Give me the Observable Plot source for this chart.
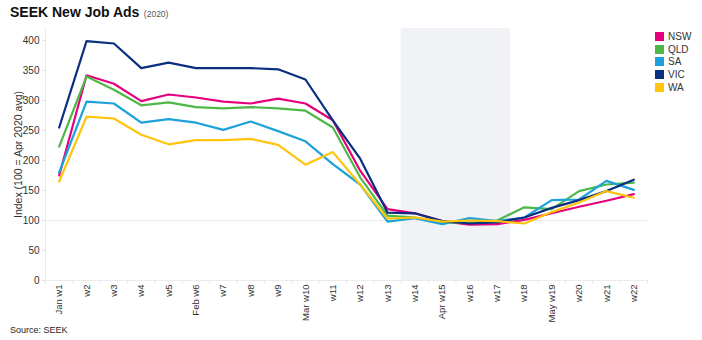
<!DOCTYPE html>
<html>
<head>
<meta charset="utf-8">
<script src="https://cdn.jsdelivr.net/npm/d3@7"></script>
<script src="https://cdn.jsdelivr.net/npm/@observablehq/plot@0.6"></script>
<style>
  body { margin: 0; background: #fff; }
  #wrap { position: relative; width: 702px; height: 340px; overflow: hidden; font-family: "Liberation Sans", Arial, sans-serif; color: #333; }
  #title { height: 22px; box-sizing: border-box; padding: 5px 0 0 10px; line-height: 14px; }
  #title b { font-size: 14px; color: #111; }
  #title small { font-size: 8.5px; color: #555; }
  #caption { padding-left: 10px; font-size: 9px; line-height: 11px; color: #222; }
  #legend { position: absolute; left: 655px; top: 30px; font-size: 10px; color: #333; }
  #legend .item { display: flex; align-items: center; height: 12.7px; }
  #legend .sw { width: 9px; height: 9px; margin-right: 4px; }
  svg { display: block; }
</style>
</head>
<body>
<div id="wrap">
  <div id="title"><b>SEEK New Job Ads</b> <small>(2020)</small></div>
  <div id="chart"></div>
  <div id="caption">Source: SEEK</div>
  <div id="legend"></div>
</div>
<script>
const weeks = ["Jan w1","w2","w3","w4","w5","Feb w6","w7","w8","w9","Mar w10","w11","w12","w13","w14","Apr w15","w16","w17","w18","May w19","w20","w21","w22"];
const states = ["NSW","QLD","SA","VIC","WA"];
const colors = ["#e5007d","#4db848","#1da1db","#0a2f7f","#ffc40c"];
const nsw = [175,342,328,299,310,305,298,295,303,295,267,183,119,112,99,93,94,101,112,123,133,144];
const qld = [223,340,318,292,297,289,287,289,287,283,255,172,108,105,97,96,100,122,119,149,160,163];
const sa  = [180,298,295,263,269,263,251,265,249,232,194,160,98,104,94,104,99,105,134,135,166,151];
const vic = [255,399,395,354,363,354,354,354,352,335,267,203,113,112,99,95,97,105,121,134,149,168];
const wa  = [165,273,270,243,227,234,234,236,226,193,214,160,103,105,98,100,99,95,114,130,149,138];
const yTicks = [0,50,100,150,200,250,300,350,400];
const shaded = [{from: 12.5, to: 16.5}];
const yLabel = "Index (100 = Apr 2020 avg)";

const series = {NSW: nsw, QLD: qld, SA: sa, VIC: vic, WA: wa};
const rows = states.flatMap(s => series[s].map((v, i) => ({state: s, i, v})));
const idx = weeks.map((_, i) => i);
const bounds = d3.range(-0.5, weeks.length, 1);

const chart = Plot.plot({
  width: 702, height: 303,
  marginTop: 6, marginBottom: 45, marginLeft: 45, marginRight: 55,
  style: {fontFamily: "'Liberation Sans', Arial, sans-serif", fontSize: "10px", color: "#333", background: "transparent"},
  x: {domain: [-0.5, weeks.length - 0.5]},
  y: {domain: [0, 420]},
  color: {domain: states, range: colors},
  marks: [
    Plot.rect(shaded, {x1: "from", x2: "to", fill: "#f0f2f6"}),
    Plot.ruleY([100], {stroke: "#ebebeb"}),
    Plot.ruleY([0], {stroke: "#ebebeb"}),
    Plot.ruleX([-0.5], {stroke: "#ebebeb"}),
    Plot.axisY(yTicks, {tickSize: 3, tickPadding: 3, stroke: "#e0e0e0", fill: "#333", label: null}),
    Plot.axisX(idx, {tickSize: 0, tickPadding: 4, tickRotate: -90, tickFormat: i => weeks[i], fill: "#333", fontSize: 9.5, label: null}),
    Plot.axisX(bounds, {tickSize: 4, tickFormat: () => "", stroke: "#e6e6e6", label: null}),
    Plot.line(rows, {x: "i", y: "v", stroke: "state", z: "state", strokeWidth: 2.2}),
    Plot.text([yLabel], {frameAnchor: "left", textAnchor: "middle", rotate: -90, dx: -27, fill: "#333", fontSize: 10.5})
  ]
});
document.getElementById("chart").appendChild(chart);

const legend = document.getElementById("legend");
states.forEach((s, k) => {
  const it = document.createElement("div");
  it.className = "item";
  it.innerHTML = `<span class="sw" style="background:${colors[k]}"></span><span>${s}</span>`;
  legend.appendChild(it);
});
</script>
</body>
</html>
